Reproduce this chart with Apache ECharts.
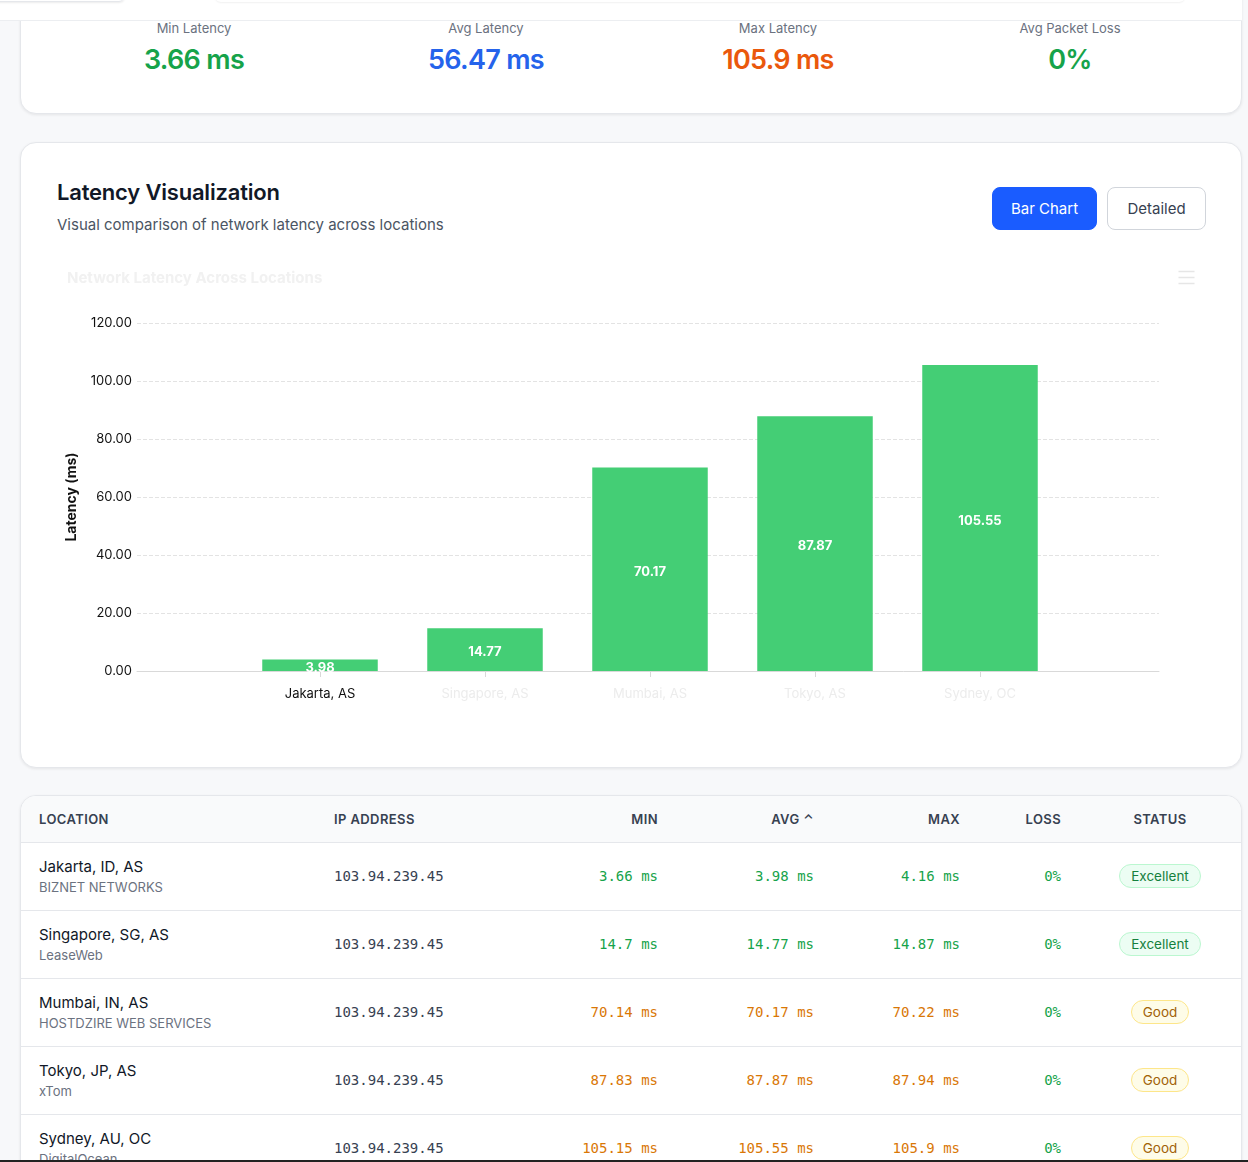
<!DOCTYPE html>
<html>
<head>
<meta charset="utf-8">
<script src="https://cdn.jsdelivr.net/npm/echarts@6/dist/echarts.min.js"></script>
<style>
  * { box-sizing: border-box; }
  body { margin: 0; width: 1248px; height: 1162px; overflow: hidden; background: #f7f8fa; font-family: Inter, "Noto Sans", sans-serif; color: #111827; position: relative; }
  .topbar { position: absolute; left: 0; top: 0; width: 1242px; height: 21px; background: #fff; border-bottom: 1px solid #eceef1; z-index: 5; }
  .topbar .pill { position: absolute; left: -10px; top: -20px; width: 135px; height: 22px; border: 1px solid #e5e7eb; border-radius: 6px; box-shadow: 0 1px 2px rgba(0,0,0,.08); }
  .topbar .bar2 { position: absolute; left: 215px; top: -10px; width: 970px; height: 12px; border-radius: 6px; box-shadow: 0 1px 2px rgba(0,0,0,.06); }
  .card { position: absolute; left: 20px; width: 1222px; background: #fff; border: 1px solid #e5e7eb; border-radius: 16px; box-shadow: 0 1px 3px rgba(0,0,0,.08); }
  .stats { top: -40px; height: 154px; }
  .stat { position: absolute; top: 59px; width: 292px; text-align: center; }
  .stat .lbl { font-size: 13px; color: #6b7280; line-height: 16px; }
  .stat .val { font-size: 27px; font-weight: 600; letter-spacing: -0.7px; margin-top: 8px; line-height: 32px; }
  .viz { top: 142px; height: 626px; }
  .viz h2 { position: absolute; left: 36px; top: 36px; margin: 0; font-size: 22px; font-weight: 600; letter-spacing: -0.2px; }
  .viz .sub { position: absolute; left: 36px; top: 72px; font-size: 15px; color: #4b5563; }
  .btn { position: absolute; top: 44px; height: 43px; border-radius: 8px; font-size: 15px; line-height: 41px; text-align: center; }
  .btn.on { left: 971px; width: 105px; background: #1a5cff; color: #fff; border: 1px solid #1a5cff; }
  .btn.off { left: 1086px; width: 99px; background: #fff; color: #374151; border: 1px solid #d1d5db; }
  #chart { position: absolute; left: 36px; top: 118px; width: 1150px; height: 485px; }
  .tbl { top: 795px; height: 420px; overflow: hidden; }
  table { width: 100%; border-collapse: collapse; table-layout: fixed; }
  th { background: #f9fafb; height: 46px; font-size: 13px; font-weight: 600; color: #374151; letter-spacing: 0.4px; text-align: left; border-bottom: 1px solid #e5e7eb; padding: 0; }
  td { height: 68px; border-bottom: 1px solid #e5e7eb; padding: 0; font-size: 14px; }
  .r { text-align: right; }
  .c { text-align: center; padding-left: 18px !important; }
  .mono { font-family: "DejaVu Sans Mono", "Liberation Mono", monospace; font-size: 14px; }
  .loc { font-size: 15px; color: #111827; }
  .isp { font-size: 13px; color: #6b7280; margin-top: 3px; }
  .ip { color: #374151; }
  .g { color: #16a34a; }
  .o { color: #d97706; }
  .badge { display: inline-block; padding: 3px 11px; border-radius: 12px; font-size: 13.5px; }
  .badge.ex { background: #ecfdf3; color: #15803d; border: 1px solid #bbf7d0; }
  .badge.gd { background: #fefce8; color: #a16207; border: 1px solid #fde68a; }
  .bottomline { position: absolute; left: 0; bottom: 0; width: 1248px; height: 2px; background: #222; }
</style>
</head>
<body>
<div class="topbar"><div class="pill"></div><div class="bar2"></div></div>

<div class="card stats">
  <div class="stat" style="left:27px"><div class="lbl">Min Latency</div><div class="val" style="color:#16a34a">3.66 ms</div></div>
  <div class="stat" style="left:319px"><div class="lbl">Avg Latency</div><div class="val" style="color:#2563eb">56.47 ms</div></div>
  <div class="stat" style="left:611px"><div class="lbl">Max Latency</div><div class="val" style="color:#ea580c">105.9 ms</div></div>
  <div class="stat" style="left:903px"><div class="lbl">Avg Packet Loss</div><div class="val" style="color:#16a34a">0%</div></div>
</div>

<div class="card viz">
  <h2>Latency Visualization</h2>
  <div class="sub">Visual comparison of network latency across locations</div>
  <div class="btn on">Bar Chart</div>
  <div class="btn off">Detailed</div>
  <div id="chart"></div>
</div>

<div class="card tbl">
  <table>
    <thead>
      <tr>
        <th style="width:313px;padding-left:18px">LOCATION</th>
        <th style="width:200px">IP ADDRESS</th>
        <th class="r" style="width:124px">MIN</th>
        <th class="r" style="width:156px">AVG &#8963;</th>
        <th class="r" style="width:146px">MAX</th>
        <th class="r" style="width:101px">LOSS</th>
        <th class="c">STATUS</th>
      </tr>
    </thead>
    <tbody id="rows"></tbody>
  </table>
</div>
<div class="bottomline"></div>

<script>
// chart data
var locations = ['Jakarta, AS', 'Singapore, AS', 'Mumbai, AS', 'Tokyo, AS', 'Sydney, OC']
var avgLatency = [3.98, 14.77, 70.17, 87.87, 105.55]
var yTicks = [0, 20, 40, 60, 80, 100, 120]

// table data
var fullNames = ['Jakarta, ID, AS', 'Singapore, SG, AS', 'Mumbai, IN, AS', 'Tokyo, JP, AS', 'Sydney, AU, OC']
var providers = ['BIZNET NETWORKS', 'LeaseWeb', 'HOSTDZIRE WEB SERVICES', 'xTom', 'DigitalOcean']
var ipAddrs = ['103.94.239.45', '103.94.239.45', '103.94.239.45', '103.94.239.45', '103.94.239.45']
var minLatency = ['3.66', '14.7', '70.14', '87.83', '105.15']
var avgText = ['3.98', '14.77', '70.17', '87.87', '105.55']
var maxLatency = ['4.16', '14.87', '70.22', '87.94', '105.9']
var lossPct = ['0%', '0%', '0%', '0%', '0%']
var statusText = ['Excellent', 'Excellent', 'Good', 'Good', 'Good']

var html = ''
for (var i = 0; i < fullNames.length; i++) {
  var cls = statusText[i] === 'Excellent' ? 'g' : 'o'
  html += '<tr>' +
    '<td style="padding-left:18px"><div class="loc">' + fullNames[i] + '</div><div class="isp">' + providers[i] + '</div></td>' +
    '<td class="mono ip">' + ipAddrs[i] + '</td>' +
    '<td class="mono r ' + cls + '">' + minLatency[i] + ' ms</td>' +
    '<td class="mono r ' + cls + '">' + avgText[i] + ' ms</td>' +
    '<td class="mono r ' + cls + '">' + maxLatency[i] + ' ms</td>' +
    '<td class="mono r g">' + lossPct[i] + '</td>' +
    '<td class="c"><span class="badge ' + (statusText[i] === 'Excellent' ? 'ex' : 'gd') + '">' + statusText[i] + '</span></td>' +
    '</tr>'
}
document.getElementById('rows').innerHTML = html

var chart = echarts.init(document.getElementById('chart'))
var option = {
  animation: false,
  textStyle: { fontFamily: 'Inter' },
  title: {
    text: 'Network Latency Across Locations',
    left: 5, top: 5,
    textStyle: { color: '#f1f1f1', fontSize: 15, fontWeight: 'bold' }
  },
  toolbox: {
    right: -5, top: -7,
    itemSize: 16,
    iconStyle: { borderColor: '#e6e6e6', borderWidth: 1.5 },
    feature: {
      myMenu: {
        show: true, title: 'menu',
        icon: 'path://M0,2 L16,2 M0,8 L16,8 M0,14 L16,14',
        onclick: function () {}
      }
    }
  },
  grid: [
    { left: 79, right: 48, top: 62, bottom: 75 },
    { left: 180.5, right: 144.5, top: 62, bottom: 75 }
  ],
  xAxis: [
    {
      gridIndex: 0, type: 'value', min: 0, max: 1,
      axisLine: { show: true, onZero: false, lineStyle: { color: '#d9d9d9' } },
      axisTick: { show: false }, axisLabel: { show: false }, splitLine: { show: false }
    },
    {
      gridIndex: 1, type: 'category', data: locations,
      axisLine: { show: false },
      axisTick: { show: true, alignWithLabel: true, length: 6, lineStyle: { color: '#d9d9d9' } },
      axisLabel: {
        margin: 17, fontSize: 13,
        color: function (v, idx) { return idx === 0 ? '#111' : '#ececec' }
      }
    }
  ],
  yAxis: [
    {
      gridIndex: 0, type: 'value', min: yTicks[0], max: yTicks[yTicks.length - 1], interval: 20,
      name: 'Latency (ms)', nameLocation: 'middle', nameGap: 58,
      nameTextStyle: { color: '#111', fontSize: 14, fontWeight: 'bold' },
      axisLine: { show: false }, axisTick: { show: false },
      axisLabel: { color: '#111', fontSize: 13, margin: 5, formatter: function (v) { return v.toFixed(2) } },
      splitLine: { lineStyle: { color: '#e3e3e3', type: 'dashed' } }
    },
    {
      gridIndex: 1, type: 'value', min: yTicks[0], max: yTicks[yTicks.length - 1], interval: 20,
      axisLine: { show: false }, axisTick: { show: false }, axisLabel: { show: false }, splitLine: { show: false }
    }
  ],
  series: [{
    type: 'bar',
    xAxisIndex: 1, yAxisIndex: 1,
    data: avgLatency,
    barWidth: '70%',
    itemStyle: { color: '#44ce75' },
    label: {
      show: true, position: 'inside', offset: [0, 3],
      color: '#fff', fontSize: 13, fontWeight: 'bold', letterSpacing: -0.5
    }
  }]
}
chart.setOption(option)
</script>
</body>
</html>
